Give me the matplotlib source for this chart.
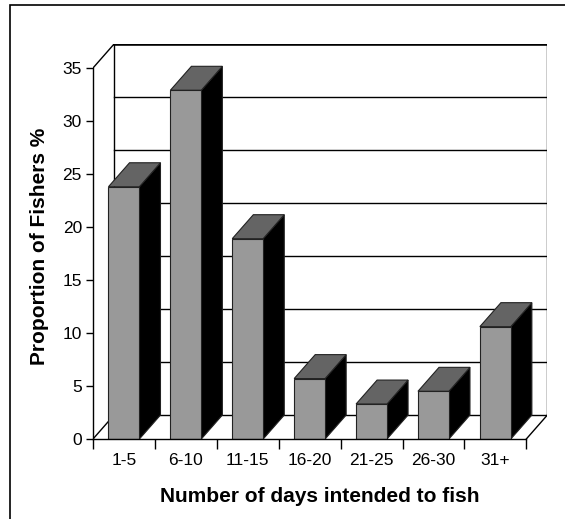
import matplotlib
matplotlib.use("Agg")
import matplotlib.pyplot as plt
from matplotlib.patches import Rectangle

plt.rcParams['font.family'] = ['Liberation Sans', 'DejaVu Sans']

# 釣行予定日数ごとの割合 (%)
categories = ['1-5', '6-10', '11-15', '16-20', '21-25', '26-30', '31+']
values = [23.8, 32.9, 18.9, 5.7, 3.3, 4.5, 10.6]
y_ticks = [0, 5, 10, 15, 20, 25, 30, 35]

W, H = 565, 519
DX, DY = 0.34, 2.26      # 奥行き方向のずれ (データ座標)
BAR_W = 0.5
Y_MAX = 35

fig = plt.figure(figsize=(W / 100, H / 100), dpi=100)

# 外枠 (左と上だけが見える)
fig.patches.append(Rectangle((10 / W, -0.1), 1.2, 1 - 5 / H + 0.1,
                             transform=fig.transFigure, fill=False,
                             edgecolor='black', linewidth=1.2))

n = len(categories)
px_per_unit = 10.6
px_per_cat = 61.9
ax_left, ax_bottom_px = 93, 439
ax_w = (n + DX) * px_per_cat
ax_h = (Y_MAX + DY) * px_per_unit
ax = fig.add_axes([ax_left / W, 1 - ax_bottom_px / H, ax_w / W, ax_h / H])
ax.set_xlim(0, n + DX)
ax.set_ylim(0, Y_MAX + DY)
ax.patch.set_visible(False)

k = dict(color='black', linewidth=1.0, zorder=1)
# 奥の壁の目盛線
for v in y_ticks:
    ax.plot([DX, n + DX], [v + DY, v + DY], **k)
ax.plot([DX, n + DX], [Y_MAX + DY, Y_MAX + DY], color='black', linewidth=1.8, zorder=1)
ax.plot([DX, DX], [DY, Y_MAX + DY], **k)
ax.plot([n + DX, n + DX], [DY, Y_MAX + DY], **k)
# 側面・床の斜め線
ax.plot([0, DX], [Y_MAX, Y_MAX + DY], **k)
ax.plot([0, DX], [0, DY], **k)
ax.plot([n, n + DX], [0, DY], **k)

# 3D風の棒
for i, v in enumerate(values):
    x0 = i + (1 - BAR_W) / 2
    x1 = x0 + BAR_W
    ax.fill([x1, x1 + DX, x1 + DX, x1], [0, DY, v + DY, v],
            facecolor='black', edgecolor='#222222', linewidth=0.8, zorder=3)
    ax.fill([x0, x1, x1 + DX, x0 + DX], [v, v, v + DY, v + DY],
            facecolor='#646464', edgecolor='#222222', linewidth=0.8, zorder=3)
    ax.fill([x0, x1, x1, x0], [0, 0, v, v],
            facecolor='#999999', edgecolor='#222222', linewidth=0.8, zorder=4)

for s in ['top', 'right']:
    ax.spines[s].set_visible(False)
ax.spines['left'].set_bounds(0, Y_MAX)
ax.spines['bottom'].set_bounds(0, n)
for s in ['left', 'bottom']:
    ax.spines[s].set_linewidth(1.0)
    ax.spines[s].set_zorder(5)

ax.set_yticks(y_ticks)
ax.set_yticklabels([str(v) for v in y_ticks], fontsize=12.5)
ax.tick_params(axis='y', length=5, width=1, pad=3)
ax.set_xticks(range(n + 1))
ax.set_xticklabels([])
ax.set_xticks([i + 0.5 for i in range(n)], minor=True)
ax.set_xticklabels(categories, minor=True, fontsize=12.5)
ax.tick_params(axis='x', which='major', length=7, width=1)
ax.tick_params(axis='x', which='minor', length=0, pad=10)

ax.set_xlabel('Number of days intended to fish', fontsize=15,
              fontweight='bold', labelpad=14)
ax.set_ylabel('Proportion of Fishers %', fontsize=15,
              fontweight='bold')
ax.yaxis.set_label_coords(-0.097, 0.488)

fig.savefig('out.png', dpi=100)
